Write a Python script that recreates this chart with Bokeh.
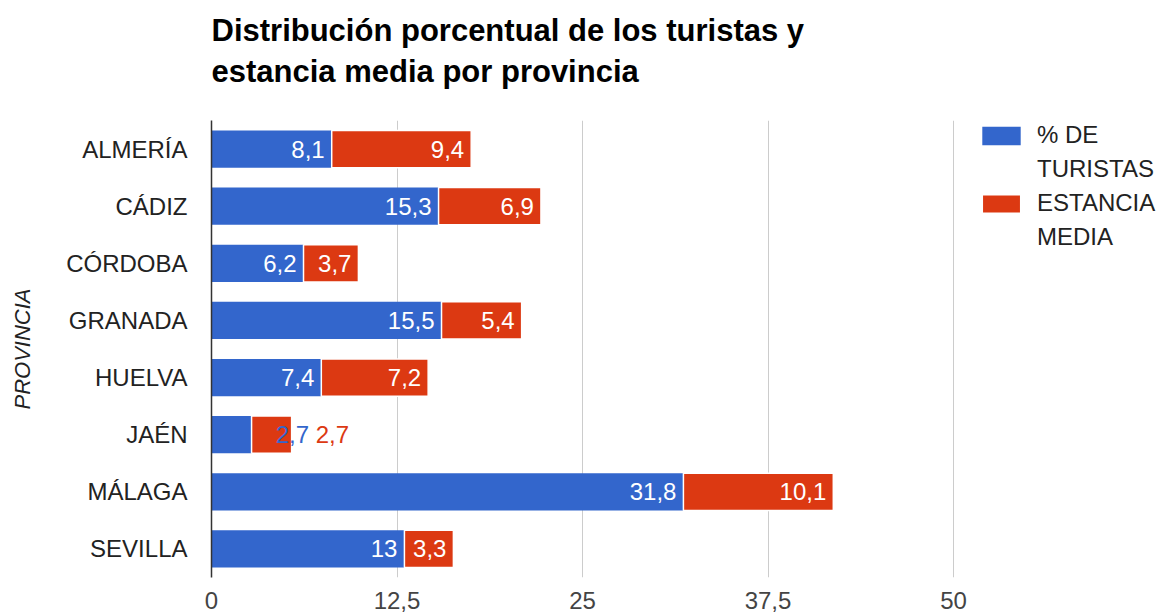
from bokeh.plotting import figure
from bokeh.models import (ColumnDataSource, FactorRange, Range1d, Title, Legend,
                          LegendItem, FixedTicker)
from bokeh.core.properties import value
from bokeh.embed import file_html
from bokeh.resources import INLINE

# ---- data ----
provincias = ["ALMERÍA", "CÁDIZ", "CÓRDOBA", "GRANADA", "HUELVA", "JAÉN", "MÁLAGA", "SEVILLA"]
pct_turistas = [8.1, 15.3, 6.2, 15.5, 7.4, 2.7, 31.8, 13]
estancia_media = [9.4, 6.9, 3.7, 5.4, 7.2, 2.7, 10.1, 3.3]
x_ticks = [0, 12.5, 25, 37.5, 50]
x_tick_labels = ["0", "12,5", "25", "37,5", "50"]
series_lines = [["% DE", "TURISTAS"], ["ESTANCIA", "MEDIA"]]
colors = ["#3366cc", "#dc3912"]
title_lines = ["Distribución porcentual de los turistas y", "estancia media por provincia"]
axis_title = "PROVINCIA"

FONT = "Liberation Sans"
FS = "24px"
W, H = 1158, 614
FL, FR, FT, FB = 211, 953, 120, 577   # where 0 and 50 sit, top and bottom of bars area
X_MAX = 50
PX = (FR - FL) / X_MAX
# the frame runs to the right edge so the legend can sit inside it
X_END = X_MAX * (W - FL) / (FR - FL)


def fmt(v):
    return f"{v:g}".replace(".", ",")


totals = [a + b for a, b in zip(pct_turistas, estancia_media)]

p = figure(width=W, height=H,
           y_range=FactorRange(factors=list(reversed(provincias)), range_padding=0),
           x_range=Range1d(0, X_END),
           output_backend="svg", toolbar_location=None,
           min_border_left=FL, min_border_right=0,
           min_border_top=FT, min_border_bottom=H - FB)
p.outline_line_color = None
p.background_fill_color = "white"

src = ColumnDataSource(dict(prov=provincias, t=pct_turistas, e=estancia_media, total=totals))
r1 = p.hbar(y="prov", left=0, right="t", height=0.65, source=src,
            fill_color=colors[0], line_color=None)
r2 = p.hbar(y="prov", left="t", right="total", height=0.65, source=src,
            fill_color=colors[1], line_color="white", line_width=1.5)

# data labels
MIN_PX = 45
in_x, in_y, in_txt = [], [], []
out_x, out_y, out_txt, out_col, out_off = [], [], [], [], []
for prov, t, e, tot in zip(provincias, pct_turistas, estancia_media, totals):
    for val, end, col, off in ((t, t, colors[0], -16), (e, tot, colors[1], 24)):
        if val * PX >= MIN_PX:
            in_x.append(end); in_y.append(prov); in_txt.append(fmt(val))
        else:
            out_x.append(tot); out_y.append(prov); out_txt.append(fmt(val))
            out_col.append(col); out_off.append(off)

p.text(x=in_x, y=in_y, text=in_txt, x_offset=-7, text_align="right",
       text_baseline="middle", text_color="white", text_font=value(FONT),
       text_font_size=FS)
p.text(x=out_x, y=out_y, text=out_txt, x_offset=out_off, text_align="left",
       text_baseline="middle", text_color=out_col, text_font=value(FONT),
       text_font_size=FS)

# axes
p.xaxis.ticker = FixedTicker(ticks=x_ticks)
p.xaxis.major_label_overrides = {t: l for t, l in zip(x_ticks, x_tick_labels)}
p.xaxis.axis_line_color = None
p.xaxis.major_tick_line_color = None
p.xaxis.minor_tick_line_color = None
p.xaxis.major_label_standoff = 8
p.xaxis.major_label_text_font = FONT
p.xaxis.major_label_text_font_size = FS
p.xaxis.major_label_text_color = "#444444"

p.yaxis.axis_line_color = "#333333"
p.yaxis.axis_line_width = 1.5
p.yaxis.major_tick_line_color = None
p.yaxis.minor_tick_line_color = None
p.yaxis.major_label_standoff = 18
p.yaxis.major_label_text_font = FONT
p.yaxis.major_label_text_font_size = FS
p.yaxis.major_label_text_color = "#222222"
p.yaxis.axis_label = axis_title
p.yaxis.axis_label_text_font = FONT
p.yaxis.axis_label_text_font_size = "22px"
p.yaxis.axis_label_text_font_style = "italic"
p.yaxis.axis_label_text_color = "#222222"
p.yaxis.axis_label_standoff = 28

p.xgrid.ticker = FixedTicker(ticks=x_ticks)
p.xgrid.grid_line_color = "#cccccc"
p.ygrid.grid_line_color = None

# titles (a blank spacer title keeps the two lines clear of the plot)
t0 = Title(text=" ", text_font_size="1px", standoff=29)
t2 = Title(text=title_lines[1], align="left", text_font=FONT, text_font_size="31px",
           text_font_style="bold", text_color="black", standoff=0)
t1 = Title(text=title_lines[0], align="left", text_font=FONT, text_font_size="31px",
           text_font_style="bold", text_color="black", standoff=8)
p.add_layout(t0, "above")
p.add_layout(t2, "above")
p.add_layout(t1, "above")

# legend (one line per item; continuation lines carry no glyph)
items = [
    LegendItem(label=series_lines[0][0], renderers=[r1]),
    LegendItem(label=series_lines[0][1], renderers=[]),
    LegendItem(label=series_lines[1][0], renderers=[r2]),
    LegendItem(label=series_lines[1][1], renderers=[]),
]
ITEM_H, SPACING = 30, 4
leg_h = 4 * ITEM_H + 3 * SPACING
legend = Legend(items=items,
                location=(FR - FL + 24, (FB - FT) - leg_h),
                glyph_width=48, glyph_height=23,
                label_text_font=FONT, label_text_font_size=FS,
                label_text_color="#222222", label_height=ITEM_H,
                label_standoff=12, spacing=SPACING, padding=0, margin=0,
                border_line_color=None, background_fill_alpha=0)
p.add_layout(legend, "center")

open("out.html", "w").write(file_html(p, INLINE))
